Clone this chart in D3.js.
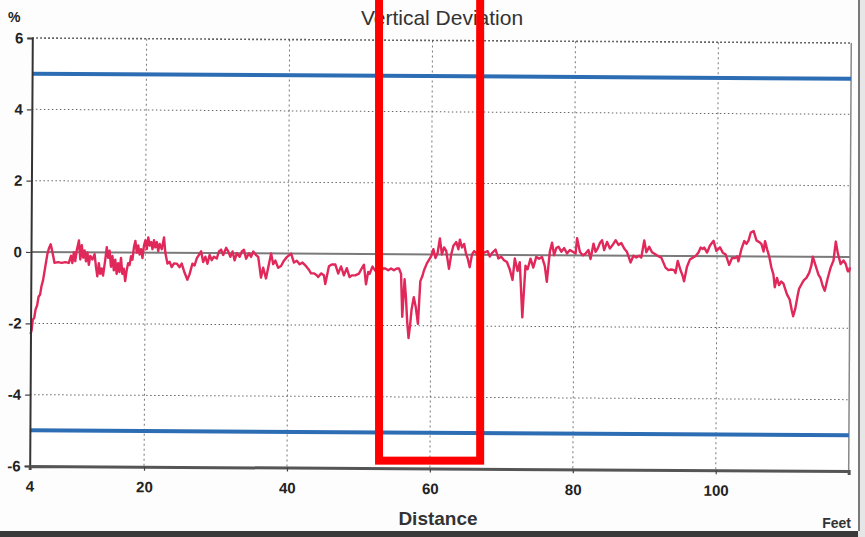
<!DOCTYPE html>
<html>
<head>
<meta charset="utf-8">
<script src="https://cdn.jsdelivr.net/npm/d3@7"></script>
<style>
  body { margin: 0; background: #fff; }
  text { font-family: "Liberation Sans", Arial, sans-serif; }
</style>
</head>
<body>
<div id="chart"></div>
<script>
// Distance along the run (feet) and vertical deviation (%)
var distanceFt = [
  4.0, 4.15, 4.3, 4.5, 4.7, 4.9, 5.1, 5.3, 5.5, 5.7, 5.9, 6.1, 6.3, 6.5, 6.75, 7.0, 7.3, 7.8, 8.3, 8.8,
  9.3, 9.6, 9.8, 10.0, 10.2, 10.4, 10.7, 10.9, 11.1, 11.3, 11.5, 11.7, 11.9, 12.1, 12.3, 12.6, 12.9, 13.1, 13.3, 13.5,
  13.7, 13.9, 14.1, 14.4, 14.6, 14.8, 15.0, 15.2, 15.4, 15.6, 15.8, 16.0, 16.2, 16.4, 16.6, 16.8, 17.0, 17.2, 17.4, 17.6,
  17.8, 18.0, 18.2, 18.4, 18.6, 18.8, 19.0, 19.2, 19.4, 19.6, 19.8, 20.0, 20.2, 20.4, 20.6, 20.8, 21.0, 21.2, 21.4, 21.6,
  21.8, 22.0, 22.3, 22.6, 22.8, 23.1, 23.4, 23.7, 24.0, 24.4, 24.8, 25.1, 25.5, 25.9, 26.2, 26.6, 26.9, 27.2, 27.5, 27.8,
  28.1, 28.4, 28.7, 29.0, 29.3, 29.6, 30.0, 30.3, 30.6, 30.9, 31.3, 31.6, 31.9, 32.2, 32.5, 32.8, 33.2, 33.5, 33.8, 34.1,
  34.5, 34.8, 35.1, 35.5, 35.8, 36.2, 36.5, 36.9, 37.2, 37.6, 37.9, 38.2, 38.6, 39.0, 39.4, 39.8, 40.4, 40.8, 41.2, 41.6,
  42.0, 42.5, 42.9, 43.2, 43.6, 44.0, 44.2, 44.6, 45.0, 45.2, 45.7, 46.1, 46.6, 47.0, 47.4, 47.8, 48.2, 48.6, 48.9, 49.4,
  49.9, 50.3, 50.6, 50.9, 51.2, 51.4, 51.8, 52.3, 52.6, 52.9, 53.2, 53.6, 54.0, 54.4, 54.8, 55.2, 55.5, 55.8, 56.0, 56.3,
  56.5, 56.7, 56.9, 57.1, 57.3, 57.6, 57.9, 58.2, 58.5, 58.8, 59.0, 59.4, 59.7, 60.0, 60.3, 60.6, 60.9, 61.2, 61.5, 61.8,
  62.1, 62.5, 62.8, 63.1, 63.5, 63.8, 64.0, 64.3, 64.6, 64.9, 65.1, 65.4, 65.7, 66.0, 66.3, 66.7, 67.3, 67.9, 68.2, 68.5,
  69.0, 69.4, 69.8, 70.2, 70.6, 71.0, 71.4, 71.7, 72.1, 72.4, 72.8, 73.2, 73.5, 73.9, 74.3, 74.7, 75.1, 75.5, 75.9, 76.2,
  76.6, 76.9, 77.2, 77.5, 77.8, 78.2, 78.6, 79.0, 79.4, 79.8, 80.2, 80.4, 80.8, 81.2, 81.6, 82.0, 82.3, 82.7, 83.0, 83.3,
  83.6, 83.9, 84.2, 84.6, 85.0, 85.4, 85.8, 86.2, 86.6, 87.0, 87.4, 87.9, 88.3, 88.7, 89.1, 89.4, 89.8, 90.1, 90.5, 90.9,
  91.3, 91.7, 92.2, 92.8, 93.2, 93.6, 94.0, 94.2, 94.5, 94.9, 95.2, 95.4, 95.8, 96.2, 96.6, 97.0, 97.4, 97.7, 98.0, 98.2,
  98.6, 99.0, 99.5, 99.9, 100.4, 100.8, 101.2, 101.7, 102.1, 102.5, 102.8, 103.0, 103.4, 103.8, 104.1, 104.4, 104.7, 105.1, 105.5, 105.9,
  106.2, 106.5, 106.7, 107.0, 107.3, 107.6, 107.9, 108.1, 108.4, 108.7, 109.0, 109.3, 109.8, 110.2, 110.5, 110.7, 111.0, 111.3, 111.5, 111.9,
  112.2, 112.5, 112.9, 113.2, 113.4, 113.8, 114.2, 114.5, 114.8, 115.1, 115.5, 115.9, 116.3, 116.6, 116.9, 117.3, 117.7, 118.0, 118.3, 118.5,
  118.6
];
var deviationPct = [
  -2.3, -2.2, -1.9, -1.85, -1.6, -1.5, -1.25, -1.2, -0.95, -0.8, -0.55, -0.3, -0.05, 0.1, 0.22, 0.0, -0.3, -0.28, -0.3, -0.28,
  -0.3, -0.1, -0.3, 0.0, -0.25, 0.05, 0.33, -0.2, 0.2, -0.15, 0.05, -0.25, 0.0, -0.35, -0.1, -0.2, -0.05, -0.4, -0.67, -0.3,
  -0.6, -0.45, -0.65, -0.2, 0.15, -0.15, 0.05, -0.4, -0.1, -0.5, -0.2, -0.6, -0.3, -0.55, -0.15, -0.6, -0.45, -0.8, -0.5, -0.3,
  -0.35, -0.1, -0.2, 0.15, 0.33, 0.0, 0.2, -0.05, 0.1, -0.15, 0.2, 0.35, 0.1, 0.43, 0.2, 0.3, 0.1, 0.35, 0.15, 0.3,
  0.05, 0.25, 0.1, 0.43, 0.0, -0.3, -0.25, -0.4, -0.3, -0.3, -0.4, -0.3, -0.55, -0.75, -0.6, -0.3, -0.35, -0.15, -0.05, 0.05,
  -0.25, -0.1, -0.3, -0.05, -0.2, -0.1, -0.15, 0.05, 0.1, -0.05, 0.15, 0.05, -0.1, 0.05, -0.2, 0.0, -0.1, 0.05, 0.1, -0.15,
  0.0, -0.1, 0.05, -0.05, -0.1, -0.68, -0.4, -0.7, -0.4, 0.0, -0.3, -0.2, -0.4, -0.35, -0.2, -0.1, 0.0, -0.25, -0.2, -0.3,
  -0.25, -0.35, -0.45, -0.55, -0.55, -0.6, -0.65, -0.55, -0.6, -0.85, -0.35, -0.3, -0.3, -0.55, -0.35, -0.6, -0.4, -0.65, -0.6, -0.6,
  -0.55, -0.4, -0.3, -0.85, -0.5, -0.55, -0.35, -0.5, -0.45, -0.6, -0.4, -0.4, -0.45, -0.4, -0.45, -0.4, -0.4, -0.55, -1.75, -0.7,
  -1.2, -1.9, -2.35, -2.0, -1.55, -1.2, -1.5, -1.95, -0.75, -0.6, -0.45, -0.25, -0.15, -0.05, 0.15, -0.1, 0.05, 0.45, 0.0, 0.2,
  0.1, -0.4, 0.0, 0.25, 0.35, 0.15, 0.42, 0.2, 0.3, 0.0, -0.1, -0.35, 0.0, 0.1, 0.05, -0.05, 0.05, 0.1, -0.05, 0.05,
  0.15, -0.1, -0.05, -0.15, -0.2, -0.4, -0.7, -0.1, -0.45, -0.2, -1.75, -0.3, -0.4, -0.1, -0.35, -0.05, -0.1, -0.05, -0.3, -0.75,
  0.1, 0.35, 0.0, 0.2, 0.24, 0.1, 0.2, 0.05, 0.15, 0.1, 0.05, 0.48, 0.1, 0.0, 0.05, 0.15, -0.1, 0.33, 0.1, 0.2,
  0.35, 0.43, 0.15, 0.38, 0.2, 0.3, 0.43, 0.3, 0.35, 0.2, 0.1, -0.19, 0.0, -0.05, 0.0, -0.05, 0.43, 0.1, 0.25, 0.1,
  0.05, 0.0, -0.05, -0.33, -0.4, -0.38, -0.4, -0.48, -0.14, -0.4, -0.55, -0.71, -0.3, -0.1, -0.05, 0.0, 0.1, 0.24, 0.2, 0.24,
  0.1, 0.3, 0.43, 0.15, 0.25, 0.1, 0.05, -0.24, -0.05, -0.05, 0.0, -0.14, 0.2, 0.43, 0.35, 0.45, 0.67, 0.71, 0.45, 0.4,
  0.35, 0.14, 0.43, 0.2, 0.0, -0.3, -0.5, -0.86, -0.6, -0.8, -0.7, -0.75, -1.05, -1.2, -1.5, -1.67, -1.45, -1.1, -0.9, -0.75,
  -0.65, -0.6, -0.45, -0.25, 0.0, -0.25, -0.5, -0.6, -0.81, -0.95, -0.6, -0.3, -0.1, 0.43, 0.1, -0.2, -0.1, -0.19, -0.4, -0.4,
  -0.29
];

// Tolerance limits (%)
var limitValues = [5, -5];

// Axis ticks
var xTicks = [4, 20, 40, 60, 80, 100];
var yTicks = [6, 4, 2, 0, -2, -4, -6];

// Highlighted stretch (feet) marked with the red box
var highlightFt = [52.7, 66.85];

var width = 865, height = 537;

var x = d3.scaleLinear().domain([4, 118.6]).range([31, 850]);
var y = d3.scaleLinear().domain([-6, 6]).range([466, 38]);

var svg = d3.select("#chart").append("svg")
    .attr("width", width)
    .attr("height", height);

svg.append("rect").attr("width", width).attr("height", height).attr("fill", "#fdfdfd");

// photo edges
svg.append("rect").attr("x", 0).attr("y", 531).attr("width", width).attr("height", 6).attr("fill", "#3a3a3a");
svg.append("rect").attr("x", 858).attr("y", 0).attr("width", 7).attr("height", 537).attr("fill", "#e6e6e6");
svg.append("line").attr("x1", 859).attr("x2", 859).attr("y1", 0).attr("y2", 531)
   .attr("stroke", "#555").attr("stroke-width", 1.5);

// the photographed chart is tilted slightly
var plot = svg.append("g").attr("transform", "rotate(0.35, 31, 252)");

plot.append("rect")
    .attr("x", x(4)).attr("y", y(6))
    .attr("width", x(118.6) - x(4)).attr("height", y(-6) - y(6))
    .attr("fill", "#fff");

// vertical dotted grid
plot.selectAll(".vgrid")
    .data(xTicks.slice(1))
    .enter().append("line")
    .attr("x1", d => x(d)).attr("x2", d => x(d))
    .attr("y1", y(6)).attr("y2", y(-6))
    .attr("stroke", "#777")
    .attr("stroke-width", 1)
    .attr("stroke-dasharray", "2,3");

// horizontal dotted grid
plot.selectAll(".hgrid")
    .data(yTicks.filter(d => d !== 0 && d !== -6))
    .enter().append("line")
    .attr("x1", x(4)).attr("x2", x(118.6))
    .attr("y1", d => y(d)).attr("y2", d => y(d))
    .attr("stroke", d => d === 6 ? "#333" : "#666")
    .attr("stroke-width", d => d === 6 ? 1.6 : 1)
    .attr("stroke-dasharray", "1.5,2.5");

// zero line
plot.append("line")
    .attr("x1", x(4)).attr("x2", x(118.6))
    .attr("y1", y(0)).attr("y2", y(0))
    .attr("stroke", "#7a7a7a").attr("stroke-width", 2);

// right frame
plot.append("line")
    .attr("x1", x(118.6)).attr("x2", x(118.6))
    .attr("y1", y(6)).attr("y2", y(-6))
    .attr("stroke", "#888").attr("stroke-width", 1.5);

// limit lines
plot.selectAll(".limit")
    .data(limitValues)
    .enter().append("line")
    .attr("x1", x(4)).attr("x2", x(118.6))
    .attr("y1", d => y(d)).attr("y2", d => y(d))
    .attr("stroke", "#2c6db4")
    .attr("stroke-width", 4);

// deviation trace
var points = distanceFt.map((d, i) => [d, deviationPct[i]]);
var line = d3.line()
    .x(d => x(d[0]))
    .y(d => y(d[1]));

plot.append("path")
    .datum(points)
    .attr("d", line)
    .attr("fill", "none")
    .attr("stroke", "#e0285a")
    .attr("stroke-width", 2.4)
    .attr("stroke-linejoin", "round");

// axes
var yAxis = d3.axisLeft(y).tickValues(yTicks).tickSize(5).tickFormat(d => String(d));
var xAxis = d3.axisBottom(x).tickValues(xTicks).tickSize(4).tickFormat(d => String(d));

var gy = plot.append("g").attr("transform", "translate(" + x(4) + ",0)").call(yAxis);
var gx = plot.append("g").attr("transform", "translate(0," + y(-6) + ")").call(xAxis);

gy.select(".domain").attr("stroke", "#333").attr("stroke-width", 2);
gx.select(".domain").attr("stroke", "#555").attr("stroke-width", 3);
[gx, gy].forEach(function(g) {
    g.selectAll(".tick line").attr("stroke", "#444").attr("stroke-width", 1.2);
    g.selectAll(".tick text")
     .attr("fill", "#222")
     .style("font-family", "'Liberation Sans Narrow', 'Arial Narrow', 'Liberation Sans', sans-serif")
     .style("font-weight", "bold")
     .style("font-size", "15px");
});
gy.selectAll(".tick text").attr("x", -9);
gx.selectAll(".tick text").attr("y", 15);

// titles
svg.append("text")
   .attr("x", 442).attr("y", 25)
   .attr("text-anchor", "middle")
   .attr("fill", "#333")
   .style("font-size", "21px")
   .text("Vertical Deviation");

svg.append("text")
   .attr("x", 8).attr("y", 22)
   .attr("fill", "#222")
   .style("font-size", "14px")
   .style("font-weight", "bold")
   .text("%");

svg.append("text")
   .attr("x", 438).attr("y", 525)
   .attr("text-anchor", "middle")
   .attr("fill", "#333")
   .style("font-size", "19px")
   .style("font-weight", "bold")
   .text("Distance");

svg.append("text")
   .attr("x", 851).attr("y", 528)
   .attr("text-anchor", "end")
   .attr("fill", "#333")
   .style("font-size", "14px")
   .style("font-weight", "bold")
   .text("Feet");

// red highlight box
svg.append("rect")
   .attr("x", x(highlightFt[0]))
   .attr("y", -10)
   .attr("width", x(highlightFt[1]) - x(highlightFt[0]))
   .attr("height", y(-5.85) + 10)
   .attr("fill", "none")
   .attr("stroke", "#f00")
   .attr("stroke-width", 8);
</script>
</body>
</html>
